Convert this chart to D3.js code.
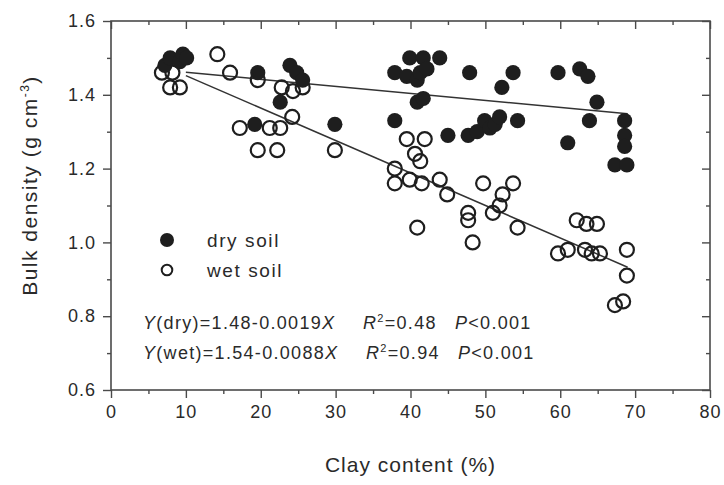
<!DOCTYPE html>
<html>
<head>
<meta charset="utf-8">
<script src="https://cdn.jsdelivr.net/npm/d3@7"></script>
<style>
  body { margin: 0; background: #fff; }
  svg { display: block; }
  text { font-family: "Liberation Sans", Arial, sans-serif; fill: #2a2a2a; }
</style>
</head>
<body>
<svg id="chart" width="724" height="485"></svg>
<script>
// Bulk density of dry soil (filled) and wet soil (open) against clay content
const dryClay = [7.2, 7.9, 9.2, 9.6, 10.1, 19.6, 19.2, 22.6, 23.9, 24.8, 25.6, 29.9,
  37.9, 37.9, 39.5, 39.9, 40.9, 41.3, 41.7, 42.2, 43.9, 40.9, 41.7, 45.0, 47.7, 47.9,
  48.9, 49.9, 50.6, 51.3, 51.9, 52.2, 53.7, 54.3, 59.7, 62.6, 63.7, 64.9, 63.9, 61.0,
  68.6, 68.6, 68.6, 67.3, 68.9];
const dryDensity = [1.48, 1.50, 1.49, 1.51, 1.50, 1.46, 1.32, 1.38, 1.48, 1.46, 1.44, 1.32,
  1.33, 1.46, 1.45, 1.50, 1.44, 1.46, 1.50, 1.47, 1.50, 1.38, 1.39, 1.29, 1.29, 1.46,
  1.30, 1.33, 1.31, 1.32, 1.34, 1.42, 1.46, 1.33, 1.46, 1.47, 1.45, 1.38, 1.33, 1.27,
  1.33, 1.29, 1.26, 1.21, 1.21];

const wetClay = [6.8, 8.2, 7.9, 9.2, 14.2, 15.9, 19.6, 17.2, 21.2, 22.6, 19.6, 22.2,
  24.2, 22.8, 24.3, 25.6, 29.9, 39.5, 41.9, 40.6, 41.3, 37.9, 37.9, 39.9, 41.5, 43.9,
  44.9, 40.9, 49.7, 53.7, 52.3, 51.9, 51.0, 47.7, 47.7, 48.3, 54.3, 62.2, 63.5, 64.9,
  59.7, 61.0, 63.3, 64.2, 65.3, 68.9, 68.9, 67.3, 68.4];
const wetDensity = [1.46, 1.46, 1.42, 1.42, 1.51, 1.46, 1.44, 1.31, 1.31, 1.31, 1.25, 1.25,
  1.34, 1.42, 1.41, 1.42, 1.25, 1.28, 1.28, 1.24, 1.22, 1.20, 1.16, 1.17, 1.16, 1.17,
  1.13, 1.04, 1.16, 1.16, 1.13, 1.10, 1.08, 1.08, 1.06, 1.00, 1.04, 1.06, 1.05, 1.05,
  0.97, 0.98, 0.98, 0.97, 0.97, 0.98, 0.91, 0.83, 0.84];

// Linear fits as stated in the annotation
const fitNames = ["dry", "wet"];
const fitIntercept = [1.48, 1.54];
const fitSlope = [0.0019, 0.0088];
const fitR2 = ["0.48", "0.94"];
const fitP = ["0.001", "0.001"];
const fitFrom = 10, fitTo = 69;

const xTicks = [0, 10, 20, 30, 40, 50, 60, 70, 80];
const xMinor = [5, 15, 25, 35, 45, 55, 65, 75];
const yTicks = [0.6, 0.8, 1.0, 1.2, 1.4, 1.6];
const yMinor = [0.7, 0.9, 1.1, 1.3, 1.5];

const legendLabels = ["dry soil", "wet soil"];

const svg = d3.select("#chart");
const box = { left: 111, top: 21, right: 710, bottom: 390 };
const x = d3.scaleLinear().domain([0, 80]).range([box.left, box.right]);
const y = d3.scaleLinear().domain([0.6, 1.6]).range([box.bottom, box.top]);

svg.append("rect").attr("width", 724).attr("height", 485).attr("fill", "#fff");

const ink = "#1e1e1e";
const frameColor = "#4a4a4a";

function styleAxis(g, labels) {
  g.select(".domain").remove();
  g.selectAll(".tick line").attr("stroke", frameColor).attr("stroke-width", 1.4);
  g.selectAll(".tick text")
    .attr("font-size", labels ? 18 : 0)
    .attr("letter-spacing", "1px")
    .attr("fill", "#2a2a2a");
}

// bottom axis (outward ticks, labelled)
svg.append("g").attr("transform", `translate(0,${box.bottom})`)
  .call(d3.axisBottom(x).tickValues(xTicks).tickSize(8).tickPadding(7).tickFormat(d3.format("d")))
  .call(g => styleAxis(g, true));
svg.append("g").attr("transform", `translate(0,${box.bottom})`)
  .call(d3.axisBottom(x).tickValues(xMinor).tickSize(4).tickFormat(""))
  .call(g => styleAxis(g, false));
// left axis (outward ticks, labelled)
svg.append("g").attr("transform", `translate(${box.left},0)`)
  .call(d3.axisLeft(y).tickValues(yTicks).tickSize(8).tickPadding(7).tickFormat(d3.format(".1f")))
  .call(g => styleAxis(g, true));
svg.append("g").attr("transform", `translate(${box.left},0)`)
  .call(d3.axisLeft(y).tickValues(yMinor).tickSize(4).tickFormat(""))
  .call(g => styleAxis(g, false));
// top axis (ticks pointing into the plot)
svg.append("g").attr("transform", `translate(0,${box.top})`)
  .call(d3.axisBottom(x).tickValues(xTicks).tickSize(8).tickFormat(""))
  .call(g => styleAxis(g, false));
svg.append("g").attr("transform", `translate(0,${box.top})`)
  .call(d3.axisBottom(x).tickValues(xMinor).tickSize(4).tickFormat(""))
  .call(g => styleAxis(g, false));
// right axis (ticks pointing into the plot)
svg.append("g").attr("transform", `translate(${box.right},0)`)
  .call(d3.axisLeft(y).tickValues(yTicks).tickSize(8).tickFormat(""))
  .call(g => styleAxis(g, false));
svg.append("g").attr("transform", `translate(${box.right},0)`)
  .call(d3.axisLeft(y).tickValues(yMinor).tickSize(4).tickFormat(""))
  .call(g => styleAxis(g, false));

// frame
svg.append("rect")
  .attr("x", box.left).attr("y", box.top)
  .attr("width", box.right - box.left).attr("height", box.bottom - box.top)
  .attr("fill", "none").attr("stroke", frameColor).attr("stroke-width", 1.6);

// fitted lines
const line = d3.line().x(d => x(d[0])).y(d => y(d[1]));
fitNames.forEach((n, i) => {
  const pts = [fitFrom, fitTo].map(c => [c, fitIntercept[i] - fitSlope[i] * c]);
  svg.append("path").attr("d", line(pts))
    .attr("fill", "none").attr("stroke", "#333").attr("stroke-width", 1.5);
});

// wet soil points (open circles)
svg.append("g").selectAll("circle")
  .data(wetClay.map((c, i) => [c, wetDensity[i]]))
  .join("circle")
  .attr("cx", d => x(d[0])).attr("cy", d => y(d[1])).attr("r", 7)
  .attr("fill", "none").attr("stroke", ink).attr("stroke-width", 2.2);

// dry soil points (filled circles)
svg.append("g").selectAll("circle")
  .data(dryClay.map((c, i) => [c, dryDensity[i]]))
  .join("circle")
  .attr("cx", d => x(d[0])).attr("cy", d => y(d[1])).attr("r", 7.6)
  .attr("fill", ink);

// legend
const lg = svg.append("g");
lg.append("circle").attr("cx", 167).attr("cy", 240).attr("r", 7).attr("fill", ink);
lg.append("circle").attr("cx", 167).attr("cy", 270).attr("r", 5.3)
  .attr("fill", "none").attr("stroke", ink).attr("stroke-width", 2);
legendLabels.forEach((t, i) => {
  lg.append("text").attr("x", 207).attr("y", 240 + i * 30).attr("dy", "0.35em")
    .attr("font-size", 19).attr("letter-spacing", "1.6px").text(t);
});

// fit equations
fitNames.forEach((n, i) => {
  const yy = 323 + i * 30;
  const t1 = svg.append("text").attr("x", 143).attr("y", yy).attr("dy", "0.35em")
    .attr("font-size", 18).attr("letter-spacing", "1.3px");
  t1.append("tspan").attr("font-style", "italic").text("Y");
  t1.append("tspan").text(`(${n})=${fitIntercept[i].toFixed(2)}-${fitSlope[i].toFixed(4)}`);
  t1.append("tspan").attr("font-style", "italic").text("X");

  const t2 = svg.append("text").attr("x", 363 + i * 3).attr("y", yy).attr("dy", "0.35em")
    .attr("font-size", 18).attr("letter-spacing", "1.3px");
  t2.append("tspan").attr("font-style", "italic").text("R");
  t2.append("tspan").attr("font-size", 11).attr("dy", "-0.65em").text("2");
  t2.append("tspan").attr("dy", "0.4em").text(`=${fitR2[i]}`);

  const t3 = svg.append("text").attr("x", 455 + i * 3).attr("y", yy).attr("dy", "0.35em")
    .attr("font-size", 18).attr("letter-spacing", "1.3px");
  t3.append("tspan").attr("font-style", "italic").text("P");
  t3.append("tspan").text(`<${fitP[i]}`);
});

// axis titles
svg.append("text")
  .attr("x", (box.left + box.right) / 2).attr("y", 465).attr("dy", "0.35em")
  .attr("text-anchor", "middle").attr("font-size", 21).attr("letter-spacing", "1px")
  .text("Clay content (%)");

const yt = svg.append("text")
  .attr("transform", `translate(30,${(box.top + box.bottom) / 2 - 20}) rotate(-90)`)
  .attr("text-anchor", "middle").attr("dy", "0.35em")
  .attr("font-size", 21).attr("letter-spacing", "1.5px");
yt.append("tspan").text("Bulk density (g cm");
yt.append("tspan").attr("font-size", 12).attr("dy", "-0.7em").text("-3");
yt.append("tspan").attr("dy", "0.42em").text(")");
</script>
</body>
</html>
